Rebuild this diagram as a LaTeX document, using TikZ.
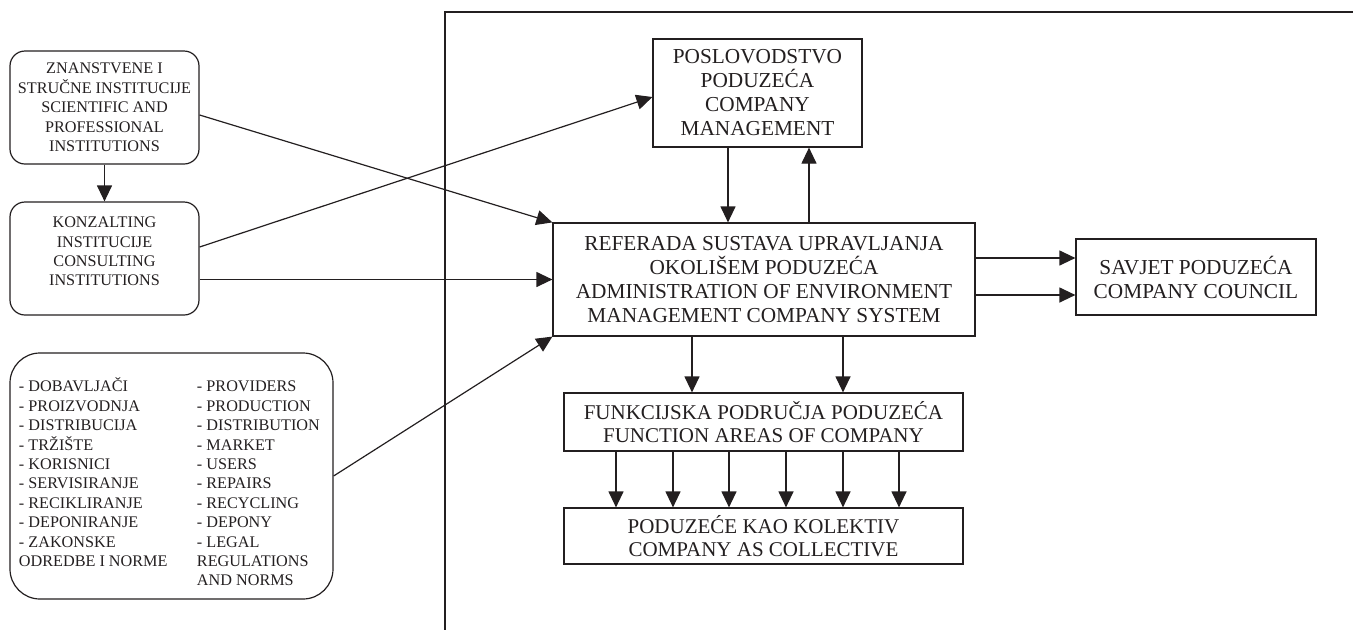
\documentclass[tikz,border=0pt]{standalone}
\usepackage{fontspec}
\setmainfont{Liberation Serif}
\usetikzlibrary{arrows.meta,calc}
\definecolor{ink}{HTML}{231F20}
\tikzset{
  lbox/.style={draw=ink,line width=1.2pt,rounded corners=15pt,inner sep=0pt,align=center,text=ink,font=\fontsize{16.2}{19.4}\selectfont},
  rbox/.style={draw=ink,line width=1.2pt,inner sep=0pt,align=center,text=ink,font=\fontsize{21.3}{24}\selectfont},
  bbox/.style={rbox,font=\fontsize{21}{23.5}\selectfont},
  ar/.style={-{Triangle[length=16pt,width=15pt]},draw=ink,line width=1.2pt},
  frame/.style={draw=ink,line width=1.3pt},
}

\begin{document}
\begin{tikzpicture}[x=1pt,y=-1pt]
  \useasboundingbox (0,0) rectangle (1353,630);
  % outer frame
  \draw[frame] (1353,12) -| (445,630);
  % sources on the left
  \node[lbox,minimum width=189pt,minimum height=113pt] (znan) at (104.5,107.5) {ZNANSTVENE I\\STRUČNE INSTITUCIJE\\SCIENTIFIC AND\\PROFESSIONAL\\INSTITUTIONS};
  \node[lbox,minimum width=189pt,minimum height=113pt,text depth=14pt] (konz) at (104.5,258.5) {KONZALTING\\INSTITUCIJE\\CONSULTING\\INSTITUTIONS};
  \node[lbox,rounded corners=30pt,minimum width=323pt,minimum height=246pt,text height=26pt] (list) at (171.5,476) {%
    \parbox[t]{178pt}{\raggedright - DOBAVLJAČI\\- PROIZVODNJA\\- DISTRIBUCIJA\\- TRŽIŠTE\\- KORISNICI\\- SERVISIRANJE\\- RECIKLIRANJE\\- DEPONIRANJE\\- ZAKONSKE\\ODREDBE I NORME}%
    \parbox[t]{127pt}{\raggedright - PROVIDERS\\- PRODUCTION\\- DISTRIBUTION\\- MARKET\\- USERS\\- REPAIRS\\- RECYCLING\\- DEPONY\\- LEGAL\\REGULATIONS\\AND NORMS}};
  % company side
  \node[rbox,minimum width=209pt,minimum height=108pt] (posl) at (757.5,93) {POSLOVODSTVO\\PODUZEĆA\\COMPANY\\MANAGEMENT};
  \node[rbox,minimum width=422pt,minimum height=113pt] (ref) at (764,279.5) {REFERADA SUSTAVA UPRAVLJANJA\\OKOLIŠEM PODUZEĆA\\ADMINISTRATION OF ENVIRONMENT\\MANAGEMENT COMPANY SYSTEM};
  \node[rbox,minimum width=240pt,minimum height=76pt] (sav) at (1196,277) {SAVJET PODUZEĆA\\COMPANY COUNCIL};
  \node[bbox,minimum width=399pt,minimum height=58pt] (fun) at (763.5,422) {FUNKCIJSKA PODRUČJA PODUZEĆA\\FUNCTION AREAS OF COMPANY};
  \node[bbox,minimum width=399pt,minimum height=56pt] (pod) at (763.5,536) {PODUZEĆE KAO KOLEKTIV\\COMPANY AS COLLECTIVE};
  % inputs
  \draw[ar] (znan) -- (konz);
  \draw[ar] ([yshift=-7.5pt]znan.east) -- (ref.north west);
  \draw[ar] ([yshift=11.5pt]konz.east) -- ([yshift=-4pt]posl.west);
  \draw[ar] (konz.east |- ref.west) -- (ref.west);
  \draw[ar] (list.east) -- (ref.south west);
  % management loop
  \draw[ar] ([xshift=-29.5pt]posl.south) -- ([xshift=-29.5pt]posl.south |- ref.north);
  \draw[ar] ([xshift=51.5pt]posl.south |- ref.north) -- ([xshift=51.5pt]posl.south);
  % council
  \foreach \dy in {21.5,-15.5} \draw[ar] ([yshift=\dy pt]ref.east) -- ([yshift=\dy pt]ref.east -| sav.west);
  % down to the company
  \foreach \dx in {-72,79} \draw[ar] ([xshift=\dx pt]ref.south) -- ([xshift=\dx pt]ref.south |- fun.north);
  \foreach \dx in {-147.5,-90.5,-34.5,22.5,79.5,135.5} \draw[ar] ([xshift=\dx pt]fun.south) -- ([xshift=\dx pt]fun.south |- pod.north);
\end{tikzpicture}
\end{document}
